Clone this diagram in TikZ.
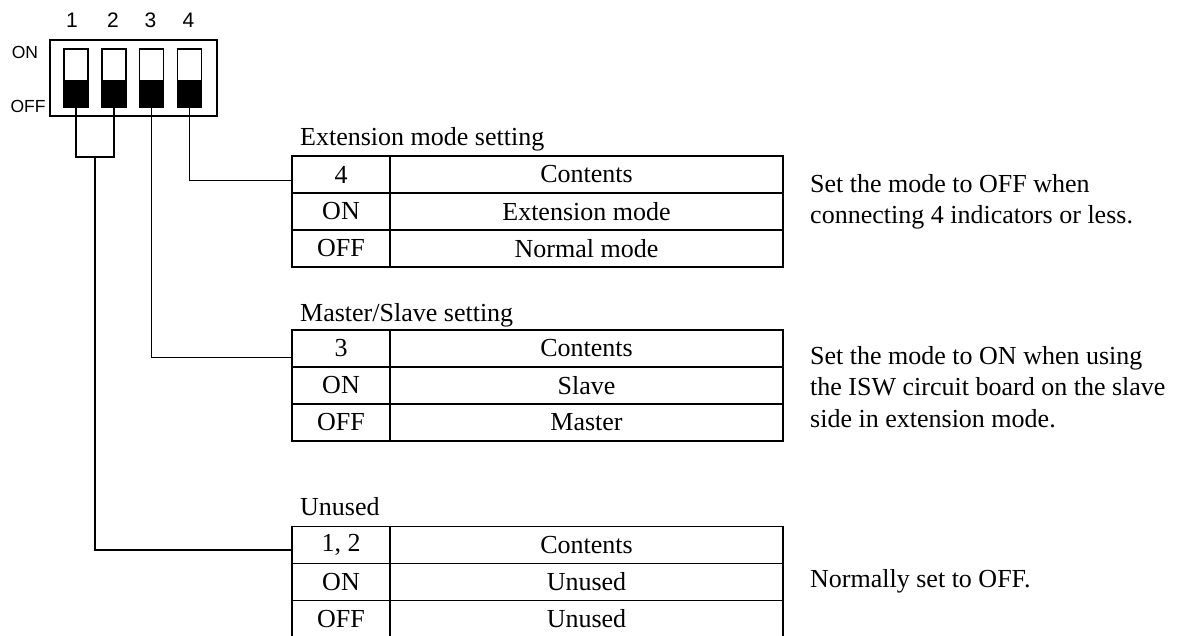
\documentclass[tikz,border=0pt]{standalone}
\usepackage{fontspec}
\setmainfont{Liberation Serif}
\newfontfamily\arialf{Liberation Sans}
\begin{document}
\begin{tikzpicture}[x=1pt,y=-1pt,
  dipframe/.style={draw, line width=1.6pt, minimum width=167pt, minimum height=76pt, inner sep=0pt, outer sep=0pt},
  swbox/.style={draw, line width=1.6pt, minimum width=24pt, minimum height=58pt, inner sep=0pt, outer sep=0pt},
  cellA/.style={draw, line width=1.8pt, minimum width=98pt, minimum height=37pt, inner sep=0pt, outer sep=0pt, font=\fontsize{26}{30}\selectfont},
  cellB/.style={draw, line width=1.8pt, minimum width=393pt, minimum height=37pt, inner sep=0pt, outer sep=0pt, font=\fontsize{26}{30}\selectfont},
  lbl/.style={anchor=base west, inner sep=0pt, font=\fontsize{26}{30}\selectfont},
  note/.style={anchor=west, align=left, inner sep=0pt, font=\fontsize{26}{31.5}\selectfont},
  diplbl/.style={inner sep=0pt, font=\arialf\fontsize{17.5}{20}\selectfont},
  numlbl/.style={inner sep=0pt, font=\arialf\fontsize{21}{24}\selectfont},
  conn/.style={line width=1.4pt}]
\useasboundingbox (0,0) rectangle (1190,635);
\clip (0,0) rectangle (1190,635);
% DIP switch
\node[dipframe] (dip) at (133.5,78) {};
\foreach \i/\x in {1/76,2/114,3/151.5,4/189.5}{
  \node[swbox] (sw\i) at (\x,78) {};
  \fill (sw\i.south west) rectangle ([yshift=27pt]sw\i.south east);
}
\node[numlbl] (n1) at (72,20) {1};
\node[numlbl] (n2) at (113,20) {2};
\node[numlbl] (n3) at (150.5,20) {3};
\node[numlbl] (n4) at (188.5,20) {4};
\node[diplbl] (lon) at (25,52) {ON};
\node[diplbl] (loff) at (28,106) {OFF};
% Table 1
\node[lbl] (l1) at (300,145) {Extension mode setting};
\node[cellA] (t1a) at (341,174.5) {4};
\node[cellB] (t1b) at (586.5,174.5) {Contents};
\node[cellA] (t1c) at (341,211.5) {ON};
\node[cellB] (t1d) at (586.5,211.5) {Extension mode};
\node[cellA] (t1e) at (341,248.5) {OFF};
\node[cellB] (t1f) at (586.5,248.5) {Normal mode};
\node[note] (d1) at (810,202) {Set the mode to OFF when\\connecting 4 indicators or less.};
% Table 2
\node[lbl] (l2) at (300,321) {Master/Slave setting};
\node[cellA] (t2a) at (341,348.5) {3};
\node[cellB] (t2b) at (586.5,348.5) {Contents};
\node[cellA] (t2c) at (341,385.5) {ON};
\node[cellB] (t2d) at (586.5,385.5) {Slave};
\node[cellA] (t2e) at (341,422.5) {OFF};
\node[cellB] (t2f) at (586.5,422.5) {Master};
\node[note] (d2) at (810,387) {Set the mode to ON when using\\the ISW circuit board on the slave\\side in extension mode.};
% Table 3
\node[lbl] (l3) at (300,515) {Unused};
\node[cellA] (t3a) at (341,545) {1, 2};
\node[cellB] (t3b) at (586.5,545) {Contents};
\node[cellA] (t3c) at (341,582) {ON};
\node[cellB] (t3d) at (586.5,582) {Unused};
\node[cellA] (t3e) at (341,619) {OFF};
\node[cellB] (t3f) at (586.5,619) {Unused};
\node[note] (d3) at (810,581) {Normally set to OFF.};
% connectors
\coordinate (t1in) at ([yshift=-6pt]t1a.west);
\coordinate (t2in) at ([yshift=-9pt]t2a.west);
\coordinate (t3in) at ([yshift=-5pt]t3a.west);
\coordinate (j12) at (95,157);
\draw[conn] (sw4.south) |- (t1in);
\draw[conn] (sw3.south) |- (t2in);
\draw[conn] (sw1.south) |- (j12) -| (sw2.south);
\draw[conn] (j12) |- (t3in);
\end{tikzpicture}
\end{document}
